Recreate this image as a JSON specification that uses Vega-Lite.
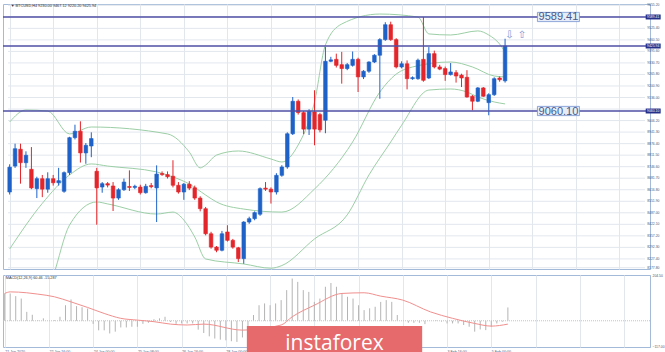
{
  "$schema": "https://vega.github.io/schema/vega-lite/v6.json",
  "background": "white",
  "padding": {"left": 1, "top": 2, "right": 0, "bottom": 0},
  "spacing": 2,
  "config": {
    "view": {"stroke": "#a3bbd9", "strokeWidth": 1},
    "axis": {"labelFont": "Liberation Sans", "labelColor": "#4a5878", "labelOverlap": false, "labelBound": false},
    "text": {"font": "DejaVu Sans"}
  },
  "datasets": {
    "one": [{}],
    "yt": [
      {"v":9655.2,"t":"9655.20"},{"v":9590.3,"t":"9590.30"},{"v":9525.4,"t":"9525.40"},{"v":9460.5,"t":"9460.50"},{"v":9395.6,"t":"9395.60"},{"v":9330.7,"t":"9330.70"},{"v":9265.8,"t":"9265.80"},{"v":9200.9,"t":"9200.90"},{"v":9136.0,"t":"9136.00"},{"v":9071.1,"t":"9071.10"},{"v":9006.2,"t":"9006.20"},{"v":8941.3,"t":"8941.30"},
      {"v":8876.4,"t":"8876.40"},{"v":8811.5,"t":"8811.50"},{"v":8746.6,"t":"8746.60"},{"v":8681.7,"t":"8681.70"},{"v":8616.8,"t":"8616.80"},{"v":8551.9,"t":"8551.90"},{"v":8487.0,"t":"8487.00"},{"v":8422.1,"t":"8422.10"},{"v":8357.2,"t":"8357.20"},{"v":8292.3,"t":"8292.30"},{"v":8227.4,"t":"8227.40"},{"v":8177.8,"t":"8177.80"}
    ],
    "candles": [
      {"i":0,"o":8604,"h":8760,"l":8590,"c":8744},{"i":1,"o":8750,"h":8876,"l":8740,"c":8848},{"i":2,"o":8845,"h":8876,"l":8651,"c":8769},{"i":3,"o":8769,"h":8833,"l":8740,"c":8811},{"i":4,"o":8732,"h":8857,"l":8620,"c":8627},{"i":5,"o":8623,"h":8690,"l":8570,"c":8679},{"i":6,"o":8679,"h":8700,"l":8575,"c":8620},{"i":7,"o":8620,"h":8715,"l":8600,"c":8679},{"i":8,"o":8679,"h":8700,"l":8640,"c":8656},{"i":9,"o":8656,"h":8740,"l":8640,"c":8668},
      {"i":10,"o":8608,"h":8720,"l":8600,"c":8713},{"i":11,"o":8713,"h":8915,"l":8700,"c":8910},{"i":12,"o":8910,"h":8983,"l":8900,"c":8946},{"i":13,"o":8946,"h":9002,"l":8770,"c":8824},{"i":14,"o":8824,"h":8880,"l":8763,"c":8867},{"i":15,"o":8863,"h":8940,"l":8800,"c":8905},{"i":16,"o":8721,"h":8740,"l":8420,"c":8627},{"i":17,"o":8632,"h":8660,"l":8600,"c":8651},{"i":18,"o":8651,"h":8660,"l":8630,"c":8643},{"i":19,"o":8638,"h":8660,"l":8497,"c":8570},
      {"i":20,"o":8570,"h":8625,"l":8560,"c":8617},{"i":21,"o":8617,"h":8680,"l":8610,"c":8660},{"i":22,"o":8635,"h":8726,"l":8610,"c":8630},{"i":23,"o":8630,"h":8645,"l":8620,"c":8636},{"i":24,"o":8632,"h":8645,"l":8590,"c":8600},{"i":25,"o":8600,"h":8650,"l":8595,"c":8636},{"i":26,"o":8640,"h":8655,"l":8625,"c":8634},{"i":27,"o":8627,"h":8754,"l":8435,"c":8705},{"i":28,"o":8708,"h":8720,"l":8695,"c":8702},{"i":29,"o":8702,"h":8720,"l":8680,"c":8690},
      {"i":30,"o":8693,"h":8783,"l":8630,"c":8642},{"i":31,"o":8642,"h":8660,"l":8595,"c":8604},{"i":32,"o":8604,"h":8655,"l":8560,"c":8648},{"i":33,"o":8648,"h":8665,"l":8615,"c":8626},{"i":34,"o":8628,"h":8640,"l":8560,"c":8570},{"i":35,"o":8570,"h":8580,"l":8495,"c":8510},{"i":36,"o":8510,"h":8520,"l":8360,"c":8369},{"i":37,"o":8369,"h":8380,"l":8285,"c":8294},{"i":38,"o":8294,"h":8300,"l":8265,"c":8276},{"i":39,"o":8276,"h":8385,"l":8270,"c":8369},
      {"i":40,"o":8379,"h":8417,"l":8325,"c":8332},{"i":41,"o":8332,"h":8340,"l":8285,"c":8294},{"i":42,"o":8290,"h":8295,"l":8210,"c":8229},{"i":43,"o":8229,"h":8440,"l":8200,"c":8435},{"i":44,"o":8435,"h":8465,"l":8425,"c":8454},{"i":45,"o":8454,"h":8495,"l":8445,"c":8488},{"i":46,"o":8479,"h":8630,"l":8470,"c":8623},{"i":47,"o":8626,"h":8660,"l":8610,"c":8620},{"i":48,"o":8620,"h":8630,"l":8539,"c":8604},{"i":49,"o":8604,"h":8710,"l":8590,"c":8698},
      {"i":50,"o":8698,"h":8755,"l":8690,"c":8745},{"i":51,"o":8745,"h":8940,"l":8735,"c":8932},{"i":52,"o":8932,"h":9139,"l":8925,"c":9115},{"i":53,"o":9115,"h":9125,"l":9040,"c":9051},{"i":54,"o":9051,"h":9060,"l":8930,"c":8958},{"i":55,"o":8958,"h":9070,"l":8925,"c":9058},{"i":56,"o":9055,"h":9177,"l":8867,"c":8958},{"i":57,"o":9040,"h":9050,"l":8940,"c":8954},{"i":58,"o":9008,"h":9420,"l":8935,"c":9340},{"i":59,"o":9340,"h":9365,"l":9335,"c":9348},
      {"i":60,"o":9351,"h":9383,"l":9305,"c":9317},{"i":61,"o":9321,"h":9393,"l":9214,"c":9299},{"i":62,"o":9299,"h":9330,"l":9290,"c":9321},{"i":63,"o":9317,"h":9395,"l":9310,"c":9351},{"i":64,"o":9351,"h":9360,"l":9167,"c":9252},{"i":65,"o":9252,"h":9290,"l":9240,"c":9284},{"i":66,"o":9284,"h":9340,"l":9275,"c":9336},{"i":67,"o":9336,"h":9380,"l":9330,"c":9374},{"i":68,"o":9374,"h":9470,"l":9129,"c":9462},{"i":69,"o":9462,"h":9560,"l":9455,"c":9546},
      {"i":70,"o":9546,"h":9563,"l":9455,"c":9462},{"i":71,"o":9462,"h":9470,"l":9300,"c":9308},{"i":72,"o":9308,"h":9340,"l":9300,"c":9326},{"i":73,"o":9326,"h":9345,"l":9182,"c":9242},{"i":74,"o":9242,"h":9255,"l":9236,"c":9248},{"i":75,"o":9242,"h":9355,"l":9236,"c":9346},{"i":76,"o":9351,"h":9589,"l":9225,"c":9233},{"i":77,"o":9246,"h":9420,"l":9240,"c":9383},{"i":78,"o":9383,"h":9400,"l":9300,"c":9308},{"i":79,"o":9308,"h":9320,"l":9290,"c":9296},
      {"i":80,"o":9299,"h":9310,"l":9230,"c":9265},{"i":81,"o":9265,"h":9330,"l":9260,"c":9280},{"i":82,"o":9276,"h":9290,"l":9220,"c":9257},{"i":83,"o":9262,"h":9270,"l":9195,"c":9246},{"i":84,"o":9250,"h":9290,"l":9135,"c":9139},{"i":85,"o":9143,"h":9150,"l":9064,"c":9115},{"i":86,"o":9115,"h":9195,"l":9110,"c":9190},{"i":87,"o":9190,"h":9195,"l":9140,"c":9143},{"i":88,"o":9107,"h":9160,"l":9036,"c":9152},{"i":89,"o":9152,"h":9250,"l":9145,"c":9242},
      {"i":90,"o":9246,"h":9255,"l":9225,"c":9236},{"i":91,"o":9230,"h":9467,"l":9220,"c":9426}
    ],
    "bands": [
      {"b":"U","i":0,"v":8998},{"b":"U","i":3,"v":9066},{"b":"U","i":7,"v":9060},{"b":"U","i":11,"v":8931},{"b":"U","i":15,"v":8970},{"b":"U","i":29,"v":8931},{"b":"U","i":33,"v":8829},{"b":"U","i":35,"v":8740},{"b":"U","i":36,"v":8756},{"b":"U","i":38,"v":8812},{"b":"U","i":42,"v":8835},{"b":"U","i":48,"v":8790},{"b":"U","i":50,"v":8773},{"b":"U","i":53,"v":8869},{"b":"U","i":56,"v":9111},{"b":"U","i":58,"v":9432},{"b":"U","i":61,"v":9550},{"b":"U","i":68,"v":9606},{"b":"U","i":75,"v":9589},{"b":"U","i":77,"v":9494},{"b":"U","i":81,"v":9488},{"b":"U","i":86,"v":9511},{"b":"U","i":88,"v":9488},{"b":"U","i":90,"v":9437},{"b":"U","i":91,"v":9392},
      {"b":"M","i":0,"v":8283},{"b":"M","i":6,"v":8540},{"b":"M","i":11,"v":8700},{"b":"M","i":15,"v":8762},{"b":"M","i":18,"v":8750},{"b":"M","i":27,"v":8717},{"b":"M","i":30,"v":8689},{"b":"M","i":33,"v":8649},{"b":"M","i":36,"v":8587},{"b":"M","i":38,"v":8548},{"b":"M","i":43,"v":8508},{"b":"M","i":50,"v":8491},{"b":"M","i":56,"v":8621},{"b":"M","i":63,"v":8886},{"b":"M","i":68,"v":9167},{"b":"M","i":71,"v":9268},{"b":"M","i":74,"v":9308},{"b":"M","i":81,"v":9336},{"b":"M","i":85,"v":9308},{"b":"M","i":89,"v":9257},{"b":"M","i":91,"v":9252},
      {"b":"L","i":0,"v":7560},{"b":"L","i":8,"v":8130},{"b":"L","i":11,"v":8418},{"b":"L","i":16,"v":8548},{"b":"L","i":18,"v":8537},{"b":"L","i":27,"v":8480},{"b":"L","i":30,"v":8491},{"b":"L","i":32,"v":8446},{"b":"L","i":34,"v":8351},{"b":"L","i":36,"v":8227},{"b":"L","i":43,"v":8199},{"b":"L","i":48,"v":8175},{"b":"L","i":50,"v":8190},{"b":"L","i":56,"v":8340},{"b":"L","i":62,"v":8475},{"b":"L","i":66,"v":8700},{"b":"L","i":70,"v":8886},{"b":"L","i":72,"v":8980},{"b":"L","i":77,"v":9178},{"b":"L","i":81,"v":9184},{"b":"L","i":84,"v":9167},{"b":"L","i":86,"v":9139},{"b":"L","i":89,"v":9111},{"b":"L","i":91,"v":9100}
    ],
    "levels": [{"p":9589.41,"t":"9589.41"},{"p":9425.94,"t":"9425.94"},{"p":9060.10,"t":"9060.10"}],
    "macd": [
      {"i":0,"v":123},{"i":1,"v":123},{"i":2,"v":111},{"i":3,"v":100},{"i":4,"v":40},{"i":5,"v":27},{"i":6,"v":3},{"i":7,"v":11},{"i":8,"v":0},{"i":9,"v":3},
      {"i":10,"v":18},{"i":11,"v":70},{"i":12,"v":96},{"i":13,"v":66},{"i":14,"v":61},{"i":15,"v":55},{"i":16,"v":-14},{"i":17,"v":-43},{"i":18,"v":-43},{"i":19,"v":-57},
      {"i":20,"v":-49},{"i":21,"v":-30},{"i":22,"v":-30},{"i":23,"v":-27},{"i":24,"v":-27},{"i":25,"v":-14},{"i":26,"v":-9},{"i":27,"v":7},{"i":28,"v":11},{"i":29,"v":18},
      {"i":30,"v":-5},{"i":31,"v":-14},{"i":32,"v":-12},{"i":33,"v":-12},{"i":34,"v":-12},{"i":35,"v":-40},{"i":36,"v":-55},{"i":37,"v":-70},{"i":38,"v":-80},{"i":39,"v":-85},
      {"i":40,"v":-88},{"i":41,"v":-92},{"i":42,"v":-95},{"i":43,"v":-75},{"i":44,"v":-40},{"i":45,"v":26},{"i":46,"v":70},{"i":47,"v":78},{"i":48,"v":70},{"i":49,"v":78},
      {"i":50,"v":93},{"i":51,"v":138},{"i":52,"v":190},{"i":53,"v":175},{"i":54,"v":138},{"i":55,"v":130},{"i":56,"v":85},{"i":57,"v":100},{"i":58,"v":153},{"i":59,"v":170},
      {"i":60,"v":153},{"i":61,"v":123},{"i":62,"v":108},{"i":63,"v":100},{"i":64,"v":70},{"i":65,"v":48},{"i":66,"v":56},{"i":67,"v":63},{"i":68,"v":85},{"i":69,"v":93},
      {"i":70,"v":85},{"i":71,"v":26},{"i":72,"v":0},{"i":73,"v":-9},{"i":74,"v":-9},{"i":75,"v":-9},{"i":76,"v":-15},{"i":77,"v":0},{"i":78,"v":3},{"i":79,"v":-4},
      {"i":80,"v":-12},{"i":81,"v":-12},{"i":82,"v":-12},{"i":83,"v":-19},{"i":84,"v":-27},{"i":85,"v":-49},{"i":86,"v":-39},{"i":87,"v":-42},{"i":88,"v":-27},{"i":89,"v":-12},
      {"i":90,"v":-4},{"i":91,"v":60}
    ],
    "signal": [
      {"i":0,"s":123},{"i":1,"s":130},{"i":4,"s":126},{"i":6,"s":120},{"i":9,"s":108},{"i":12,"s":85},{"i":15,"s":60},{"i":18,"s":33},{"i":21,"s":11},{"i":24,"s":3},{"i":27,"s":-4},{"i":30,"s":-15},{"i":33,"s":-19},{"i":36,"s":-15},{"i":43,"s":-42},{"i":50,"s":-19},{"i":52,"s":18},{"i":56,"s":70},{"i":61,"s":123},{"i":65,"s":126},{"i":68,"s":111},{"i":72,"s":93},{"i":77,"s":40},{"i":81,"s":11},{"i":85,"s":-12},{"i":88,"s":-24},{"i":91,"s":-15}
    ]
  },
  "vconcat": [
    {
      "width": 647,
      "height": 265,
      "layer": [
        {
          "data": {"name": "yt"},
          "mark": {"type": "rule", "color": "#e2e7ee", "strokeWidth": 1},
          "encoding": {
            "x": {"datum": -0.3, "type": "quantitative",
                  "scale": {"domain": [-0.3, 116.7], "nice": false, "zero": false},
                  "axis": {"title": null, "values": [0,2,4,6,8,10,12,14,16,18,20,22,24,26,28,30,32,34,36,38,40,42,44,46,48,50,52,54,56,58,60,62,64,66,68,70,72,74,76,78,80,82,84,86,88,90,92,94,96,98,100,102,104,106,108,110,112,114,116],
                           "grid": true, "gridColor": "#e2e7ee", "labels": false, "ticks": false, "domain": false}},
            "x2": {"datum": 116.7},
            "y": {"field": "v", "type": "quantitative",
                  "scale": {"domain": [8170.6, 9662.5], "nice": false, "zero": false},
                  "axis": {"title": null, "orient": "right", "labels": false, "ticks": false, "grid": false, "domainColor": "#a3bbd9"}}
          }
        },
        {
          "data": {"name": "yt"},
          "transform": [{"filter": "datum.v != 9590.3 && datum.v != 9071.1"}],
          "mark": {"type": "text", "font": "Liberation Sans", "fontSize": 3.4, "color": "#4a5878", "align": "left", "baseline": "middle"},
          "encoding": {"x": {"datum": 117.1, "type": "quantitative"}, "y": {"field": "v", "type": "quantitative"}, "text": {"field": "t"}}
        },
        {
          "data": {"name": "bands"},
          "mark": {"type": "line", "clip": true, "color": "#9ccfa6", "strokeWidth": 1, "interpolate": "monotone"},
          "encoding": {
            "x": {"field": "i", "type": "quantitative"},
            "y": {"field": "v", "type": "quantitative"},
            "detail": {"field": "b"}
          }
        },
        {
          "data": {"name": "candles"},
          "mark": {"type": "rule", "clip": true, "strokeWidth": 1},
          "encoding": {
            "x": {"field": "i", "type": "quantitative"},
            "y": {"field": "l", "type": "quantitative"},
            "y2": {"field": "h"},
            "color": {"condition": {"test": "datum.c >= datum.o", "value": "#1e62c8"}, "value": "#e3262b"}
          }
        },
        {
          "data": {"name": "candles"},
          "mark": {"type": "bar", "clip": true, "size": 3.6, "strokeWidth": 0.6},
          "encoding": {
            "x": {"field": "i", "type": "quantitative"},
            "y": {"field": "o", "type": "quantitative"},
            "y2": {"field": "c"},
            "color": {"condition": {"test": "datum.c >= datum.o", "value": "#1e62c8"}, "value": "#e3262b"},
            "stroke": {"condition": {"test": "datum.c >= datum.o", "value": "#1e62c8"}, "value": "#e3262b"}
          }
        },
        {
          "data": {"name": "levels"},
          "mark": {"type": "rule", "color": "#4f4fa6", "strokeWidth": 1.6},
          "encoding": {"y": {"field": "p", "type": "quantitative"}}
        },
        {
          "data": {"name": "levels"},
          "transform": [{"filter": "datum.p != 9425.94"}],
          "mark": {"type": "point", "shape": "M-1,-0.22H1V0.22H-1Z", "filled": true, "fill": "#e6edf8", "stroke": "#7390cf", "strokeWidth": 0.8, "opacity": 1, "size": 1764},
          "encoding": {"x": {"datum": 100.8, "type": "quantitative"}, "y": {"field": "p", "type": "quantitative"}}
        },
        {
          "data": {"name": "levels"},
          "transform": [{"filter": "datum.p != 9425.94"}],
          "mark": {"type": "text", "font": "Liberation Sans", "fontSize": 11, "color": "#475a8c", "align": "center", "baseline": "middle", "dy": 0.5},
          "encoding": {"x": {"datum": 100.8, "type": "quantitative"}, "y": {"field": "p", "type": "quantitative"}, "text": {"field": "t"}}
        },
        {
          "data": {"name": "levels"},
          "mark": {"type": "point", "shape": "M-1,-0.33H1V0.33H-1Z", "filled": true, "fill": "#25308a", "opacity": 1, "size": 225},
          "encoding": {"x": {"datum": 118.2, "type": "quantitative"}, "y": {"field": "p", "type": "quantitative"}}
        },
        {
          "data": {"name": "levels"},
          "mark": {"type": "text", "font": "Liberation Sans", "fontSize": 3.4, "color": "white", "align": "center", "baseline": "middle"},
          "encoding": {"x": {"datum": 118.2, "type": "quantitative"}, "y": {"field": "p", "type": "quantitative"}, "text": {"field": "t"}}
        },
        {
          "data": {"name": "one"},
          "mark": {"type": "text", "text": "⇩", "fontSize": 10, "color": "#7192d6", "align": "center", "baseline": "middle"},
          "encoding": {"x": {"datum": 91.8, "type": "quantitative"}, "y": {"datum": 9490, "type": "quantitative"}}
        },
        {
          "data": {"name": "one"},
          "mark": {"type": "text", "text": "⇧", "fontSize": 10, "color": "#7192d6", "align": "center", "baseline": "middle"},
          "encoding": {"x": {"datum": 94.1, "type": "quantitative"}, "y": {"datum": 9490, "type": "quantitative"}}
        },
        {
          "data": {"name": "one"},
          "mark": {"type": "text", "text": "▼ BTCUSD,H4  9230.00 9467.12 9220.20 9425.94", "font": "Liberation Sans", "fontSize": 3.8, "color": "#333333", "align": "left", "baseline": "middle"},
          "encoding": {"x": {"datum": 0.2, "type": "quantitative"}, "y": {"datum": 9653, "type": "quantitative"}}
        }
      ]
    },
    {
      "width": 647,
      "height": 72,
      "layer": [
        {
          "data": {"name": "macd"},
          "mark": {"type": "rule", "color": "#b4b4b4", "strokeWidth": 1},
          "encoding": {
            "x": {"field": "i", "type": "quantitative",
                  "scale": {"domain": [-0.3, 116.7], "nice": false, "zero": false},
                  "axis": {"title": null, "values": [0,2,4,6,8,10,12,14,16,18,20,22,24,26,28,30,32,34,36,38,40,42,44,46,48,50,52,54,56,58,60,62,64,66,68,70,72,74,76,78,80,82,84,86,88,90,92,94,96,98,100,102,104,106,108,110,112,114,116],
                           "grid": true, "gridColor": "#e2e7ee", "ticks": false, "domain": false, "labelFontSize": 3.6, "labelAlign": "left", "labelPadding": 2, "labelOverlap": false, "labelBound": false,
                           "labelExpr": "(datum.value % 4 == 0 && datum.value <= 88 && (datum.value <= 40 || datum.value >= 76)) ? ['21 Jan 2020','22 Jan 00:00','22 Jan 16:00','23 Jan 08:00','24 Jan 00:00','24 Jan 16:00','25 Jan 08:00','26 Jan 00:00','26 Jan 16:00','27 Jan 08:00','28 Jan 00:00','28 Jan 16:00','29 Jan 08:00','30 Jan 00:00','30 Jan 16:00','31 Jan 08:00','1 Feb 00:00','1 Feb 16:00','2 Feb 08:00','3 Feb 00:00','3 Feb 16:00','4 Feb 08:00','5 Feb 00:00'][datum.value / 4] : ''"}},
            "y": {"field": "v", "type": "quantitative",
                  "scale": {"domain": [-118, 206], "nice": false, "zero": false},
                  "axis": {"title": null, "orient": "right", "values": [204.5, 0, -117], "format": ".2f", "labelFontSize": 3.4, "ticks": false, "labelPadding": 2, "domainColor": "#a3bbd9", "grid": false, "labelOverlap": false, "labelBound": false, "labelBaseline": "middle"}},
            "y2": {"datum": 0}
          }
        },
        {
          "data": {"name": "one"},
          "mark": {"type": "rule", "color": "#c4c4c4", "strokeWidth": 1, "strokeDash": [1, 1]},
          "encoding": {"y": {"datum": 0, "type": "quantitative"}}
        },
        {
          "data": {"name": "signal"},
          "mark": {"type": "line", "color": "#f0908e", "strokeWidth": 1, "interpolate": "monotone"},
          "encoding": {"x": {"field": "i", "type": "quantitative"}, "y": {"field": "s", "type": "quantitative"}}
        },
        {
          "data": {"name": "one"},
          "mark": {"type": "text", "text": "MACD(12,26,9) 60.46 -15.287", "font": "Liberation Sans", "fontSize": 3.8, "color": "#333333", "align": "left", "baseline": "middle"},
          "encoding": {"x": {"datum": 0.2, "type": "quantitative"}, "y": {"datum": 192, "type": "quantitative"}}
        },
        {
          "data": {"name": "one"},
          "mark": {"type": "rect", "color": "#e66a6b"},
          "encoding": {"x": {"datum": 43.8, "type": "quantitative"}, "x2": {"datum": 75.5}, "y": {"datum": -24, "type": "quantitative"}, "y2": {"datum": -185}}
        },
        {
          "data": {"name": "one"},
          "mark": {"type": "text", "text": "instaforex", "font": "Open Sans", "fontSize": 21, "color": "white", "align": "center", "baseline": "alphabetic"},
          "encoding": {"x": {"datum": 59.65, "type": "quantitative"}, "y": {"datum": -133, "type": "quantitative"}}
        }
      ]
    }
  ]
}
